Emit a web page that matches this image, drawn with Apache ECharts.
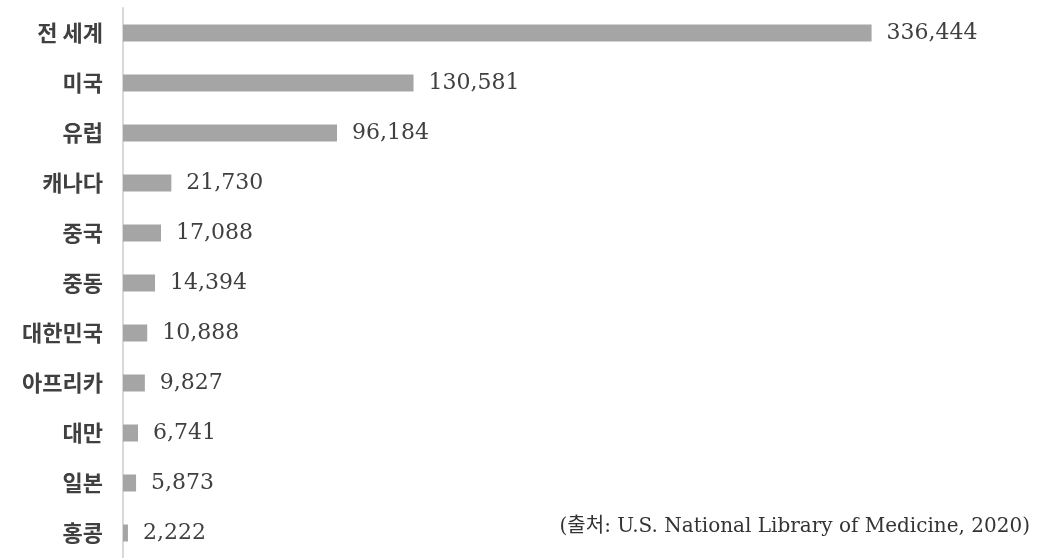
<!DOCTYPE html>
<html>
<head>
<meta charset="utf-8">
<script src="https://cdn.jsdelivr.net/npm/echarts@6/dist/echarts.min.js"></script>
<style>
  html, body { margin: 0; padding: 0; background: #fff; }
  #chart { width: 1037px; height: 558px; }
</style>
</head>
<body>
<div id="chart"></div>
<script>
// 지역별 데이터 (위에서 아래 순서)
var regions = ['전 세계', '미국', '유럽', '캐나다', '중국', '중동', '대한민국', '아프리카', '대만', '일본', '홍콩'];
var counts = [336444, 130581, 96184, 21730, 17088, 14394, 10888, 9827, 6741, 5873, 2222];
var sourceText = '(출처: U.S. National Library of Medicine, 2020)';

var chart = echarts.init(document.getElementById('chart'));
var option = {
  animation: false,
  backgroundColor: '#fff',
  grid: { left: 123, top: 8, width: 890, height: 552 },
  xAxis: {
    type: 'value',
    min: 0,
    max: 400000,
    show: false
  },
  yAxis: {
    type: 'category',
    inverse: true,
    data: regions,
    axisLine: { show: true, lineStyle: { color: '#d9d9d9', width: 2 } },
    axisTick: { show: false },
    axisLabel: {
      margin: 20,
      color: '#404040',
      fontSize: 22,
      fontWeight: 'bold',
      fontFamily: '"Noto Sans CJK KR", sans-serif'
    }
  },
  series: [{
    type: 'bar',
    data: counts,
    barWidth: 17,
    itemStyle: { color: '#a5a5a5' },
    label: {
      show: true,
      position: 'right',
      distance: 15,
      color: '#404040',
      fontSize: 22,
      fontFamily: '"DejaVu Serif", "Liberation Serif", serif',
      formatter: function (p) { return p.value.toLocaleString('en-US'); }
    }
  }],
  graphic: [{
    type: 'text',
    right: 7,
    top: 517,
    style: {
      text: sourceText,
      fill: '#333',
      fontSize: 20,
      fontFamily: '"DejaVu Serif", "Noto Sans CJK KR", serif'
    }
  }]
};
chart.setOption(option);
</script>
</body>
</html>
